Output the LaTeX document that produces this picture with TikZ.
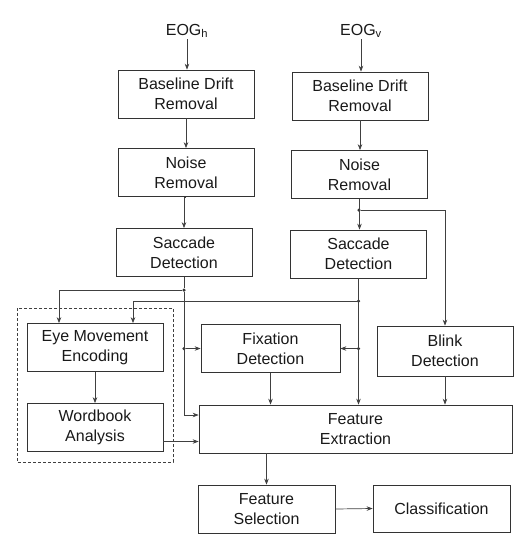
\documentclass[tikz,border=0pt]{standalone}
\usepackage{fontspec}
\setmainfont{Liberation Sans}
\usetikzlibrary{arrows.meta,calc}
\begin{document}
\begin{tikzpicture}[x=1pt,y=-1pt,
  box/.style={draw=black!80,line width=0.7pt,minimum width=136pt,minimum height=48pt,align=center,inner sep=2pt,font=\fontsize{16}{20}\selectfont,text=black!90},
  lbl/.style={font=\fontsize{16}{20}\selectfont,inner sep=1pt,text=black!90},
  conn/.style={draw=black!75,line width=0.7pt,-{Stealth[length=6pt,width=4.5pt]}},
  line/.style={draw=black!75,line width=0.7pt},
  dot/.style={circle,fill=black!80,inner sep=0pt,minimum size=3.5pt}]
\useasboundingbox (0,0) rectangle (522,539);
% nodes
\node[lbl] (eogh) at (187,31) {EOG\textsubscript{h}};
\node[lbl] (eogv) at (361,31) {EOG\textsubscript{v}};
\node[box] (bdh) at (186,94) {Baseline Drift\\Removal};
\node[box] (bdv) at (360,96) {Baseline Drift\\Removal};
\node[box] (nrh) at (186,172.5) {Noise\\Removal};
\node[box] (nrv) at (359.5,174.5) {Noise\\Removal};
\node[box] (sdh) at (184,252.5) {Saccade\\Detection};
\node[box] (sdv) at (358.5,254) {Saccade\\Detection};
\node[box] (eme) at (95,347.5) {Eye Movement\\Encoding};
\node[box] (wba) at (95,427.5) {Wordbook\\Analysis};
\node[box,minimum width=139pt] (fix) at (270.5,348.5) {Fixation\\Detection};
\node[box,minimum height=50pt] (blink) at (445,351) {Blink\\Detection};
\node[box,minimum width=313pt] (fe) at (355.5,429) {Feature\\Extraction};
\node[box,minimum width=137pt] (fs) at (266.5,509) {Feature\\Selection};
\node[box,minimum width=137pt,minimum height=47pt] (cls) at (441.5,508.5) {Classification};
% dashed group
\draw[line,dashed,dash pattern=on 3pt off 2pt] (17,308) rectangle (173,462);
% coordinates / junctions
\node[dot] (d1) at (359,210) {};
\node[dot] (d2) at (184,290) {};
\node[dot] (d3) at (184,348.5) {};
\node[dot] (d4) at (358.5,301) {};
\node[dot] (d5) at (358.5,348.5) {};
\coordinate (emeA) at ($(eme.north)+(-36,0)$);
\coordinate (emeB) at ($(eme.north)+(38,0)$);
\coordinate (feA) at ($(fe.west)+(0,-14)$);
\coordinate (wbaA) at ($(wba.east)+(0,14)$);
% connectors
\draw[conn] (eogh) -- (eogh |- bdh.north);
\draw[conn] (eogv) -- (eogv |- bdv.north);
\draw[conn] (bdh.south) -- (bdh.south |- nrh.north);
\draw[conn] (bdv.south) -- (bdv.south |- nrv.north);
\draw[conn] (nrh.south) -- (nrh.south -| sdh.north) -- (sdh.north);
\draw[conn] (nrv.south) -- (nrv.south |- sdv.north);
\draw[conn] (d1) -| (blink.north);
\draw[line] (sdh.south) -- (d2);
\draw[conn] (d2) -| (emeA);
\draw[conn] (d2) |- (feA);
\draw[conn] (d3) -- (fix.west);
\draw[conn] (sdv.south) -- (sdv.south |- fe.north);
\draw[conn] (d4) -| (emeB);
\draw[conn] (d5) -- (fix.east);
\draw[conn] (fix.south) -- (fix.south |- fe.north);
\draw[conn] (blink.south) -- (blink.south |- fe.north);
\draw[conn] (eme.south) -- (wba.north);
\draw[conn] (wbaA) -- (wbaA -| fe.west);
\draw[conn] (fs.north |- fe.south) -- (fs.north);
\draw[conn] (fs.east) -- (cls.west);
\end{tikzpicture}
\end{document}
